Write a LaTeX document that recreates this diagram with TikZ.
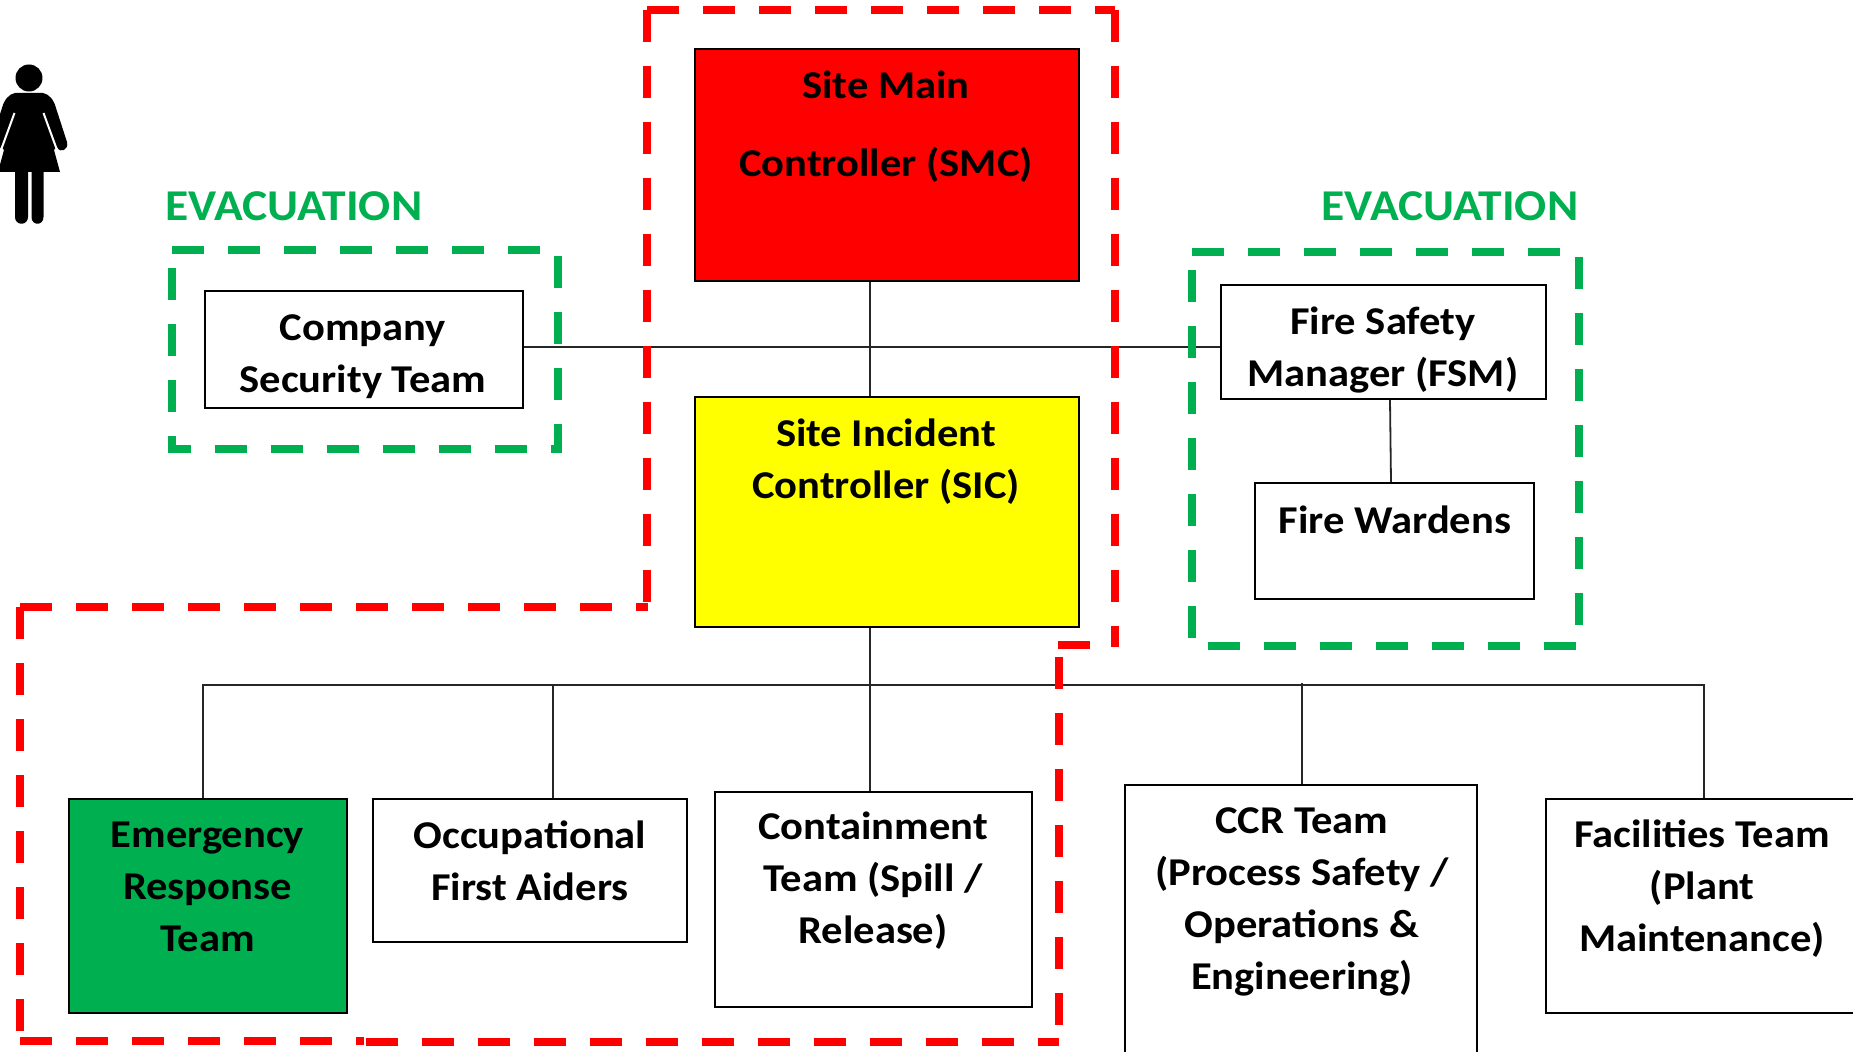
\documentclass[tikz,border=0pt]{standalone}
\usepackage{fontspec}
\setmainfont[FakeStretch=1.08]{Carlito}
\usetikzlibrary{fit}
\definecolor{evacgreen}{HTML}{00B050}
\definecolor{ctlred}{HTML}{FF0000}
\definecolor{ctlyellow}{HTML}{FFFF00}
\tikzset{
  box/.style={draw=black,line width=1pt,inner sep=0pt,fill=white},
  lbl/.style={font=\fontsize{19.7}{26}\selectfont\bfseries,align=center,inner sep=0pt,text=black},
  evac/.style={font=\fontsize{22}{26}\selectfont\bfseries,inner sep=0pt,text=evacgreen},
  conn/.style={draw=black!85,line width=0.9pt},
  greenzone/.style={draw=evacgreen,line width=3.9pt,dash pattern=on 16pt off 12pt},
  redzone/.style={draw=ctlred,line width=3.9pt,dash pattern=on 16pt off 12pt},
}
\begin{document}
\begin{tikzpicture}[x=0.5pt,y=-0.5pt]
\clip (0,0) rectangle (1853,1052);
\coordinate (trunk) at (870,685);
\coordinate (busL) at (203,685);
\coordinate (busR) at (1704,685);
% boxes
\node[box,fill=ctlred,fit={(695,49)(1079,281)}] (smc) {};
\node[box,fill=ctlyellow,fit={(695,397)(1079,627)}] (sic) {};
\node[box,fit={(205,291)(523,408)}] (sec) {};
\node[box,fit={(1221,285)(1546,399)}] (fsm) {};
\node[box,fit={(1255,483)(1534,599)}] (fw) {};
\node[box,fill=evacgreen,fit={(69,799)(347,1013)}] (ert) {};
\node[box,fit={(373,799)(687,942)}] (ofa) {};
\node[box,fit={(715,792)(1032,1007)}] (cont) {};
\node[box,fit={(1125,785)(1477,1100)}] (ccr) {};
\node[box,fit={(1546,799)(1900,1013)}] (fac) {};
% connectors
\draw[conn] (smc.south -| trunk) -- (sic.north -| trunk);
\draw[conn] (sec.east |- 0,347) -- (fsm.west |- 0,347);
\draw[conn] (sic.south -| trunk) -- (cont.north -| trunk);
\draw[conn] (ert.north -| busL) -- (busL) -- (busR) -- (fac.north -| busR);
\draw[conn] (ofa.north -| 553,0) -- (553,685);
\draw[conn] (ccr.north -| 1302,0) -- (1302,683);
\draw[conn] (fsm.south -| 1390,0) -- (fw.north -| 1391,0);
% red zone, drawn in the separate runs of the reference
\draw[redzone] (647,10) -- (1115,10);
\draw[redzone] (647,10) -- (647,604);
\draw[redzone] (1115,10) -- (1115,647);
\draw[redzone] (1058,645) -- (1090,645);
\draw[redzone] (1059,657) -- (1059,1030);
\draw[redzone] (20,607) -- (648,607);
\draw[redzone] (20,607) -- (20,1032);
\draw[redzone] (20,1041) -- (364,1041);
\draw[redzone] (366,1042) -- (1059,1042);
% green zones
\draw[greenzone] (172,250) -- (558,250) -- (558,449) -- (172,449) -- (172,250);
\draw[greenzone] (1192,252) -- (1579,252) -- (1579,646) -- (1192,646) -- (1192,252);
% labels
\node[lbl,font=\fontsize{19.7}{39}\selectfont\bfseries] (smcT) at (886,127) {Site Main\\Controller (SMC)};
\node[lbl] (sicT) at (886,462) {Site Incident\\Controller (SIC)};
\node[lbl] (secT) at (363,356.5) {Company\\Security Team};
\node[lbl] (fsmT) at (1383,350.5) {Fire Safety\\Manager (FSM)};
\node[lbl] (fwT) at (1395,520) {Fire Wardens};
\node[lbl] (ertT) at (207.5,887) {Emergency\\Response\\Team};
\node[lbl] (ofaT) at (530,861) {Occupational\\First Aiders};
\node[lbl] (contT) at (873,881) {Containment\\Team (Spill /\\Release)};
\node[lbl] (ccrT) at (1302,901.5) {CCR Team\\(Process Safety /\\Operations \&\\Engineering)};
\node[lbl] (facT) at (1702,889) {Facilities Team\\(Plant\\Maintenance)};
\node[evac] (evL) at (294,206) {EVACUATION};
\node[evac] (evR) at (1450,206) {EVACUATION};
% person
\fill[black] (29,78) circle (13.5);
\fill[black] (15,93) -- (43,93) .. controls (49,94) and (54,100) .. (56,108) -- (67,142)
  .. controls (69,150) and (60,154) .. (57,147) -- (54,150) -- (60,172) -- (-2,172) -- (4,150) -- (1,147)
  .. controls (-2,154) and (-11,150) .. (-9,142) -- (2,108) .. controls (4,100) and (9,94) .. (15,93) -- cycle;
\draw[white,line width=1pt] (43.5,113) -- (57,150);
\draw[white,line width=1pt] (14.5,113) -- (1,150);
\fill[black] (15,172) -- (28,172) -- (28,217) .. controls (28,226) and (15,226) .. (15,217) -- cycle;
\fill[black] (31.5,172) -- (43.5,172) -- (43.5,217) .. controls (43.5,226) and (31.5,226) .. (31.5,217) -- cycle;
\end{tikzpicture}
\end{document}
